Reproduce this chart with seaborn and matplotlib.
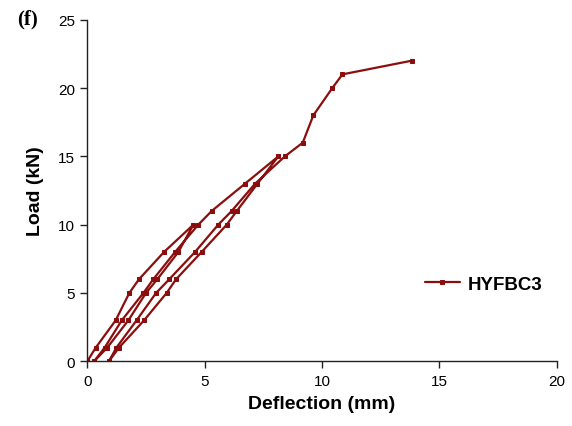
import numpy as np
import pandas as pd
import matplotlib
matplotlib.use("Agg")
import matplotlib.pyplot as plt
import seaborn as sns

# Load-deflection path (loading / unloading cycles), in test order
deflection_mm = [
    # first loading to 10 kN
    0.00, 0.36, 1.21, 1.79, 2.20, 3.27, 4.52,
    # unloading to 0
    3.88, 2.98, 2.50, 1.75, 0.85, 0.29,
    # reloading to 15 kN
    0.74, 1.47, 2.39, 2.81, 3.74, 4.73, 5.30, 6.72, 8.14,
    # unloading to 0
    7.25, 6.37, 5.94, 4.87, 3.78, 3.38, 2.42, 1.35, 0.92,
    # reloading to failure
    1.24, 2.10, 2.93, 3.49, 4.59, 5.58, 6.15, 7.15, 8.42, 9.18, 9.63, 10.44, 10.87, 13.82,
]
load_kN = [
    0, 1, 3, 5, 6, 8, 10,
    8, 6, 5, 3, 1, 0,
    1, 3, 5, 6, 8, 10, 11, 13, 15,
    13, 11, 10, 8, 6, 5, 3, 1, 0,
    1, 3, 5, 6, 8, 10, 11, 13, 15, 16, 18, 20, 21, 22,
]
series_name = "HYFBC3"
x_ticks = [0, 5, 10, 15, 20]
y_ticks = [0, 5, 10, 15, 20, 25]

df = pd.DataFrame({"Deflection": deflection_mm, "Load": load_kN,
                   "Specimen": series_name})

sns.set_style("ticks")
plt.rcParams["font.family"] = ["Liberation Sans", "DejaVu Sans"]
plt.rcParams["text.color"] = "black"
plt.rcParams["axes.labelcolor"] = "black"

fig = plt.figure(figsize=(5.72, 4.27), dpi=100)
ax = fig.add_axes([0.1526, 0.1515, 0.8207, 0.8000])

color = "#8B0E0E"
sns.lineplot(data=df, x="Deflection", y="Load", hue="Specimen", sort=False,
             estimator=None, palette=[color], marker="s", markersize=3,
             markeredgecolor=color, linewidth=1.6, ax=ax)

ax.set_xlim(0, 20)
ax.set_ylim(0, 25)
ax.set_xticks(x_ticks)
ax.set_yticks(y_ticks)
for s in ["top", "right"]:
    ax.spines[s].set_visible(False)
for s in ["left", "bottom"]:
    ax.spines[s].set_linewidth(1.0)
    ax.spines[s].set_color("#222222")
ax.tick_params(axis="both", direction="out", length=5, width=1.0, pad=4,
               labelsize=11, colors="#222222", labelcolor="black")

ax.set_xlabel("Deflection (mm)", fontsize=14, fontweight="bold", labelpad=5)
ax.set_ylabel("Load (kN)", fontsize=14, fontweight="bold", labelpad=10)

leg = ax.legend(loc="center left", bbox_to_anchor=(0.719, 0.226),
                frameon=False, borderpad=0, borderaxespad=0,
                handlelength=1.87, handletextpad=0.43,
                prop={"weight": "bold", "size": 13.5})

fig.text(0.030, 0.955, "(f)", fontsize=15, fontweight="bold",
         family=["Liberation Serif", "DejaVu Serif"], va="center")

fig.savefig("out.png", dpi=100)
